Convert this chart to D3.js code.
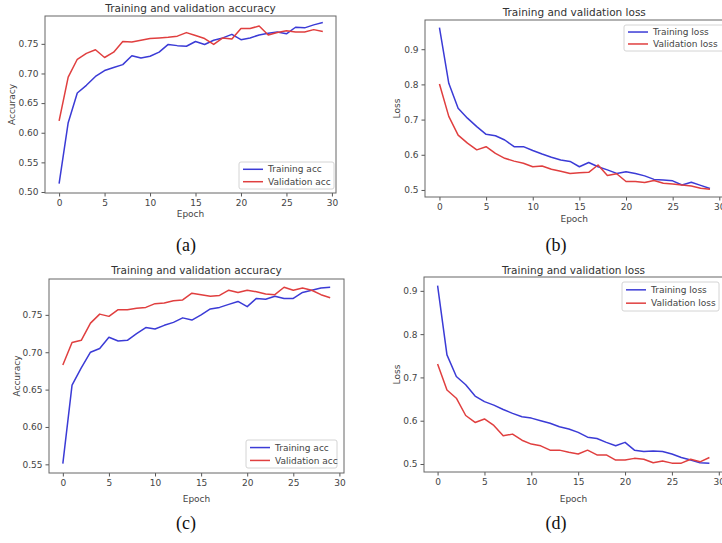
<!DOCTYPE html>
<html>
<head>
<meta charset="utf-8">
<script src="https://cdn.jsdelivr.net/npm/d3@7"></script>
<style>
  body { margin: 0; background: #fff; }
  svg { display: block; font-family: "DejaVu Sans", sans-serif; }
</style>
</head>
<body>
<div id="chart"></div>
<script>
// epochs shared by all four panels
var epochs = [0, 1, 2, 3, 4, 5, 6, 7, 8, 9, 10, 11, 12, 13, 14, 15, 16, 17, 18, 19, 20, 21, 22, 23, 24, 25, 26, 27, 28, 29];

// (a) accuracy
var trainAccA = [0.514, 0.617, 0.667, 0.680, 0.695, 0.705, 0.710, 0.715, 0.730, 0.726, 0.729, 0.736, 0.749, 0.747, 0.746,
                 0.754, 0.749, 0.756, 0.760, 0.766, 0.757, 0.760, 0.765, 0.768, 0.770, 0.767, 0.778, 0.777, 0.782, 0.786];
var valAccA   = [0.620, 0.694, 0.724, 0.734, 0.740, 0.727, 0.736, 0.754, 0.753, 0.756, 0.759, 0.760, 0.761, 0.763, 0.769,
                 0.764, 0.759, 0.749, 0.760, 0.758, 0.776, 0.776, 0.780, 0.765, 0.769, 0.772, 0.770, 0.770, 0.774, 0.771];

// (b) loss
var trainLossB = [0.961, 0.803, 0.732, 0.704, 0.680, 0.658, 0.654, 0.642, 0.623, 0.623, 0.612, 0.602, 0.593, 0.585, 0.581,
                  0.566, 0.578, 0.566, 0.557, 0.547, 0.552, 0.547, 0.540, 0.530, 0.528, 0.526, 0.514, 0.522, 0.513, 0.504];
var valLossB   = [0.801, 0.709, 0.656, 0.633, 0.614, 0.623, 0.604, 0.590, 0.582, 0.576, 0.566, 0.568, 0.559, 0.553, 0.547,
                  0.549, 0.550, 0.571, 0.541, 0.546, 0.524, 0.524, 0.521, 0.527, 0.519, 0.517, 0.514, 0.511, 0.505, 0.502];

// (c) accuracy
var trainAccC = [0.551, 0.656, 0.679, 0.700, 0.705, 0.720, 0.715, 0.716, 0.725, 0.733, 0.731, 0.736, 0.740, 0.746, 0.743,
                 0.750, 0.758, 0.760, 0.764, 0.768, 0.761, 0.772, 0.771, 0.775, 0.772, 0.772, 0.780, 0.783, 0.786, 0.787];
var valAccC   = [0.683, 0.713, 0.716, 0.739, 0.751, 0.748, 0.757, 0.757, 0.759, 0.760, 0.765, 0.766, 0.769, 0.770, 0.779,
                 0.777, 0.775, 0.776, 0.783, 0.780, 0.783, 0.781, 0.778, 0.777, 0.787, 0.783, 0.786, 0.783, 0.777, 0.773];

// (d) loss
var trainLossD = [0.912, 0.752, 0.702, 0.683, 0.657, 0.644, 0.636, 0.626, 0.617, 0.609, 0.606, 0.600, 0.594, 0.586, 0.581,
                  0.573, 0.562, 0.559, 0.550, 0.542, 0.550, 0.532, 0.529, 0.530, 0.529, 0.523, 0.515, 0.509, 0.503, 0.502];
var valLossD   = [0.731, 0.671, 0.652, 0.612, 0.596, 0.604, 0.589, 0.565, 0.569, 0.555, 0.546, 0.542, 0.532, 0.532, 0.527,
                  0.523, 0.532, 0.521, 0.521, 0.509, 0.509, 0.513, 0.511, 0.503, 0.507, 0.502, 0.502, 0.511, 0.505, 0.515];

// tick labels
var xTicks = [0, 5, 10, 15, 20, 25, 30];
var accTicksA = [0.50, 0.55, 0.60, 0.65, 0.70, 0.75];
var accTicksC = [0.55, 0.60, 0.65, 0.70, 0.75];
var lossTicks = [0.5, 0.6, 0.7, 0.8, 0.9];

var titleAcc = "Training and validation accuracy";
var titleLoss = "Training and validation loss";
var captions = ["(a)", "(b)", "(c)", "(d)"];

var blue = "#3b3bd6", red = "#e03f3f";

var W = 722, H = 543;
var svg = d3.select("#chart").append("svg").attr("width", W).attr("height", H);

var panels = [
  { box: [45, 336, 16, 193], xd: [-1.55, 30.45], yd: [0.4983, 0.797], yTicks: accTicksA, fmt: ".2f",
    title: titleAcc, titleY: 12, ylab: "Accuracy", ylabX: 12, xlabY: 217,
    s1: trainAccA, s2: valAccA, n1: "Training acc", n2: "Validation acc",
    legend: { x: 239, y: 162, w: 95, h: 27 }, caption: captions[0], capX: 186, capY: 251 },
  { box: [425, 723.5, 20, 197], xd: [-1.55, 30.45], yd: [0.48, 0.983], yTicks: lossTicks, fmt: ".1f",
    title: titleLoss, titleY: 16, ylab: "Loss", ylabX: 397, xlabY: 222,
    s1: trainLossB, s2: valLossB, n1: "Training loss", n2: "Validation loss",
    legend: { x: 624, y: 25, w: 110, h: 26 }, caption: captions[1], capX: 556, capY: 251 },
  { box: [49, 344, 279, 473], xd: [-1.5, 30.5], yd: [0.5384, 0.798], yTicks: accTicksC, fmt: ".2f",
    title: titleAcc, titleY: 274, ylab: "Accuracy", ylabX: 17, xlabY: 502,
    s1: trainAccC, s2: valAccC, n1: "Training acc", n2: "Validation acc",
    legend: { x: 246, y: 440, w: 91, h: 28 }, caption: captions[2], capX: 186, capY: 529 },
  { box: [424, 723, 277, 472], xd: [-1.45, 30.45], yd: [0.4815, 0.932], yTicks: lossTicks, fmt: ".1f",
    title: titleLoss, titleY: 274, ylab: "Loss", ylabX: 397, xlabY: 502,
    s1: trainLossD, s2: valLossD, n1: "Training loss", n2: "Validation loss",
    legend: { x: 622, y: 282, w: 97, h: 29 }, caption: captions[3], capX: 556, capY: 529 }
];

panels.forEach(drawPanel);

function drawPanel(p) {
  var left = p.box[0], right = p.box[1], top = p.box[2], bottom = p.box[3];
  var x = d3.scaleLinear().domain(p.xd).range([left, right]);
  var y = d3.scaleLinear().domain(p.yd).range([bottom, top]);
  var g = svg.append("g");

  // axes
  var xa = g.append("g").attr("transform", "translate(0," + bottom + ")")
    .call(d3.axisBottom(x).tickValues(xTicks).tickSize(3.5).tickPadding(3));
  var ya = g.append("g").attr("transform", "translate(" + left + ",0)")
    .call(d3.axisLeft(y).tickValues(p.yTicks).tickFormat(d3.format(p.fmt)).tickSize(3.5).tickPadding(3));
  [xa, ya].forEach(function (a) {
    a.select(".domain").remove();
    a.selectAll("line").attr("stroke", "#555");
    a.selectAll("text").attr("fill", "#444").style("font-size", "9px").style("font-family", "DejaVu Sans, sans-serif");
  });

  // lines
  var line = function (vals) {
    return d3.line().x(function (d, i) { return x(epochs[i]); }).y(function (d) { return y(d); })(vals);
  };
  g.append("path").attr("d", line(p.s1)).attr("fill", "none").attr("stroke", blue).attr("stroke-width", 1.5).attr("stroke-linejoin", "round");
  g.append("path").attr("d", line(p.s2)).attr("fill", "none").attr("stroke", red).attr("stroke-width", 1.5).attr("stroke-linejoin", "round");

  // frame
  g.append("rect").attr("x", left).attr("y", top).attr("width", right - left).attr("height", bottom - top)
    .attr("fill", "none").attr("stroke", "#666").attr("stroke-width", 1);

  // titles and labels
  g.append("text").attr("x", (left + right) / 2).attr("y", p.titleY).attr("text-anchor", "middle")
    .attr("fill", "#333").style("font-size", "10.5px").text(p.title);
  g.append("text").attr("x", (left + right) / 2).attr("y", p.xlabY).attr("text-anchor", "middle")
    .attr("fill", "#444").style("font-size", "9px").text("Epoch");
  g.append("text").attr("transform", "translate(" + p.ylabX + "," + (top + bottom) / 2 + ") rotate(-90)")
    .attr("text-anchor", "middle").attr("dy", "0.35em").attr("fill", "#444").style("font-size", "9px").text(p.ylab);

  // legend
  var L = p.legend;
  var lg = g.append("g").attr("transform", "translate(" + L.x + "," + L.y + ")");
  lg.append("rect").attr("width", L.w).attr("height", L.h).attr("rx", 2)
    .attr("fill", "#fff").attr("fill-opacity", 0.8).attr("stroke", "#d4d4d4");
  [[p.n1, blue], [p.n2, red]].forEach(function (e, i) {
    var cy = L.h * (0.27 + 0.46 * i);
    lg.append("line").attr("x1", 4).attr("x2", 24).attr("y1", cy).attr("y2", cy)
      .attr("stroke", e[1]).attr("stroke-width", 1.5);
    lg.append("text").attr("x", 29).attr("y", cy).attr("dy", "0.35em").attr("fill", "#444")
      .style("font-size", "9px").text(e[0]);
  });

  // caption
  svg.append("text").attr("x", p.capX).attr("y", p.capY).attr("text-anchor", "middle")
    .style("font-family", "Liberation Serif, Times New Roman, serif").style("font-size", "18px")
    .attr("fill", "#111").text(p.caption);
}
</script>
</body>
</html>
